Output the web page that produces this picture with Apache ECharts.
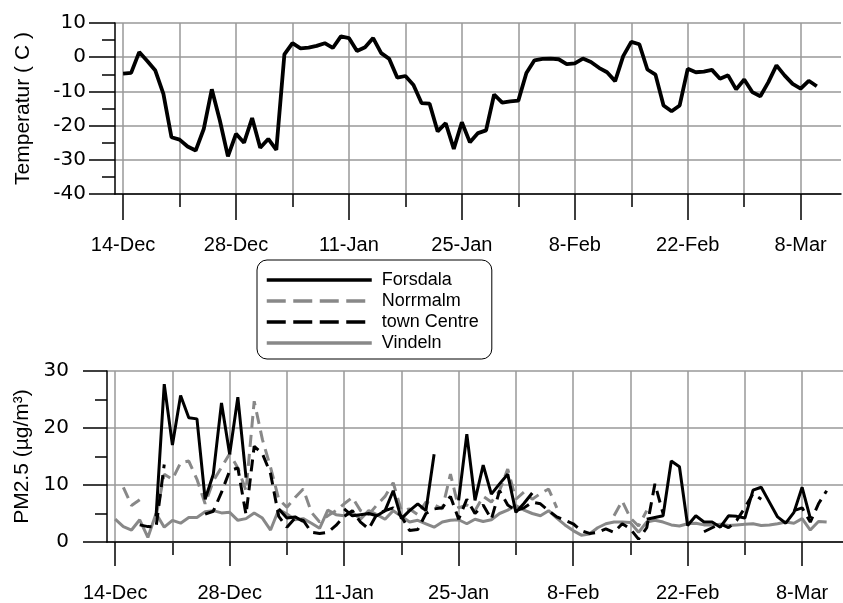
<!DOCTYPE html>
<html lang="en">
<head>
    <meta charset="UTF-8">
    <title>Temperatur och PM2.5</title>
    <script src="https://cdn.jsdelivr.net/npm/echarts@6/dist/echarts.min.js"></script>
    <style>html, body { margin: 0; background: #fff; }</style>
</head>
<body>
    <div id="main" style="width: 843px;height:603px;"></div>
    <script type="text/javascript">
        // days on the axis: 13-Dec .. 13-Mar
        const months = [['Dec', 13, 31], ['Jan', 1, 31], ['Feb', 1, 28], ['Mar', 1, 13]];
        const days = [];
        months.forEach((m) => {
            for (let d = m[1]; d <= m[2]; d++) days.push(d + '-' + m[0]);
        });

        const tickLabels = ['14-Dec', '28-Dec', '11-Jan', '25-Jan', '8-Feb', '22-Feb', '8-Mar'];
        const weekLines = ['14-Dec', '21-Dec', '28-Dec', '4-Jan', '11-Jan', '18-Jan', '25-Jan',
            '1-Feb', '8-Feb', '15-Feb', '22-Feb', '1-Mar', '8-Mar'];
        const minorTicks = weekLines.filter((d) => !tickLabels.includes(d));

        // daily values, first value is 14-Dec
        const temperature = [-4.8, -4.6, 1.5, -1.1, -3.9, -10.7, -23.4, -24.1, -26.1, -27.3, -21.0, -9.4,
            -18.5, -29.0, -22.4, -25.0, -17.8, -26.5, -23.9, -27.1, 0.8, 4.1, 2.6, 2.8, 3.3, 4.1, 2.7, 6.1,
            5.6, 1.8, 2.9, 5.6, 1.2, -0.5, -6.0, -5.5, -8.1, -13.4, -13.6, -21.7, -19.3, -26.8, -19.0, -24.9,
            -22.2, -21.4, -10.9, -13.3, -12.9, -12.7, -4.6, -0.9, -0.5, -0.4, -0.6, -2.0, -1.8, -0.4, -1.4,
            -3.1, -4.4, -7.0, 0.3, 4.5, 3.8, -3.6, -5.1, -14.1, -15.8, -14.1, -3.4, -4.4, -4.2, -3.7, -6.3,
            -5.3, -9.4, -6.5, -10.2, -11.4, -7.3, -2.4, -5.3, -7.8, -9.2, -6.9, -8.5];

        const forsdala = [null, null, null, null, null,
            4.5, 27.7, 17.0, 25.7, 21.8, 21.6, 7.5, 11.9, 24.4, 15.4, 25.4, 11.3,
            null, null, null,
            5.8, 4.2, 4.4, 3.6,
            null, null, null, null,
            5.8, 4.6, 4.8, 5.0, 4.6, 5.5, 9.0, 4.1, 5.5, 6.7, 5.5, 15.4,
            null, null,
            7.3, 18.9, 7.3, 13.5, 8.4, 10.2, 11.9, 5.2, 6.8, 8.6,
            null, null, null, null, null, null, null, null, null, null, null, null, null,
            4.0, 4.3, 4.6, 14.2, 13.2, 2.9, 4.6, 3.5, 3.5, 2.6, 4.6, 4.5, 4.2, 9.1, 9.6, 7.0, 4.4, 3.3,
            5.2, 9.6, 4.2,
            null, null];

        const norrmalm = [null, 9.6, 6.4, 7.4, null, 4.5, 11.9, 11.0, 13.9, 14.2, 11.0, 6.7, 10.7, 13.1,
            15.5, 13.0, 9.0, 24.7, 18.0, 13.1, 7.5, 6.1, 7.8, 9.3, 5.2, 3.5, 4.6, 5.5, 6.7, 7.8, 5.5, 4.8,
            6.5, 8.0, 10.4, 5.5, 5.8, 4.8, 7.0, 6.5, 5.8, 11.9, 6.0, 6.5, 5.5, 8.0, 7.0, 9.0, 12.8, 7.5,
            8.8, 7.5, 8.5, 9.3, 6.0,
            null, null, null, null, null, null,
            4.6, 7.2, 4.2, 2.8, 5.5];

        const townCentre = [null, null, null, 3.0, 2.7, 2.6, 13.6,
            null, null, null, null,
            4.9, 5.4, 8.7, 12.5, 13.0, 4.8, 16.8, 15.5, 12.0, 4.5, 2.6, 4.2, 3.8, 1.7, 1.5, 1.7, 2.9,
            4.5, 5.5, 3.5, 2.3, 4.9, 5.5, 6.0, 4.5, 2.0, 2.2, 5.0, 5.8, 6.0, 8.0, 4.0, 7.5, 5.0, 6.5,
            4.0, 9.0, 6.5, 5.5, 6.0, 7.0, 6.7, 5.5, 4.4, 3.8, 3.2, 2.0, 1.5, 1.7, 2.3, 1.7, 3.2, 2.3,
            0.5, 2.5, 10.2, 5.0,
            null, null, null, null,
            1.8, 2.5, 3.2, 2.5, 3.8, 6.0, 8.5, 7.5,
            null, null, null,
            5.5, 6.0, 3.5, 6.7, 9.0];

        const vindeln = [4.0, 2.7, 2.1, 3.9, 0.8, 5.0, 2.6, 3.8, 3.3, 4.3, 4.3, 5.3, 5.5, 5.1, 5.2, 3.8,
            4.1, 5.1, 4.2, 2.1, 5.7, 4.9, 3.9, 4.1, 3.3, 2.4, 5.6, 4.8, 4.6, 5.2, 4.0, 5.5, 4.8, 4.0, 5.5,
            4.5, 3.5, 3.8, 3.2, 2.6, 3.5, 3.8, 3.9, 3.2, 4.0, 3.6, 3.9, 5.0, 5.6, 6.4, 5.6, 5.0, 4.6, 5.5,
            4.2, 3.0, 2.0, 1.2, 1.4, 2.5, 3.2, 3.5, 3.5, 3.4, 1.7, 3.5, 3.8, 3.5, 3.0, 2.8, 3.2, 3.3, 3.0,
            3.0, 3.1, 2.9, 3.0, 3.1, 3.2, 2.9, 3.0, 3.2, 3.5, 3.3, 4.1, 2.1, 3.6, 3.5];

        // axis starts on 13-Dec, the data on 14-Dec
        const pad = (arr) => [null].concat(arr);

        const font = 'Liberation Sans, Arial, sans-serif';
        const black = { color: '#000', width: 1.5 };
        const grey = { color: '#999', width: 1.5 };

        function xAxis(gridIndex, major, tickLen) {
            return {
                type: 'category',
                gridIndex: gridIndex,
                data: days,
                boundaryGap: false,
                axisLine: { show: major, onZero: false, lineStyle: black },
                axisTick: {
                    show: true,
                    length: major ? tickLen : tickLen / 2,
                    interval: (i, v) => (major ? tickLabels : minorTicks).includes(v),
                    lineStyle: black
                },
                axisLabel: {
                    show: major,
                    interval: (i, v) => tickLabels.includes(v),
                    margin: 41,
                    color: '#000',
                    fontSize: 20,
                    fontFamily: font
                },
                splitLine: {
                    show: major,
                    interval: (i, v) => weekLines.includes(v),
                    lineStyle: grey
                }
            };
        }

        function yAxis(gridIndex, min, max, name, nameGap, labelMargin, tickLen) {
            return {
                type: 'value',
                gridIndex: gridIndex,
                min: min,
                max: max,
                interval: 10,
                name: name,
                nameLocation: 'middle',
                nameGap: nameGap,
                nameTextStyle: { fontSize: 21, color: '#000', fontFamily: font },
                axisLine: { show: true, lineStyle: black },
                axisTick: { show: true, length: tickLen, lineStyle: black },
                minorTick: { show: true, splitNumber: 2, length: tickLen / 2, lineStyle: black },
                axisLabel: { margin: labelMargin, color: '#000', fontSize: 20, fontFamily: 'DejaVu Sans' },
                splitLine: { show: true, lineStyle: grey }
            };
        }

        const hiddenY = (gridIndex, min, max) => ({ type: 'value', gridIndex: gridIndex, min: min, max: max, show: false });

        const dashed = [12, 7];
        const legendDash = [19, 7.5];

        let options = {
            animation: false,
            backgroundColor: '#fff',
            grid: [
                { left: 115, right: 2, top: 23, bottom: 409 },
                { left: 115, right: 2, top: 23, bottom: 409 },
                { left: 107, right: 0, top: 371, bottom: 60 },
                { left: 107, right: 0, top: 371, bottom: 60 }
            ],
            xAxis: [xAxis(0, true, 26), xAxis(1, false, 26), xAxis(2, true, 24), xAxis(3, false, 24)],
            yAxis: [
                yAxis(0, -40, 10, 'Temperatur ( C )', 81, 29, 26),
                hiddenY(1, -40, 10),
                yAxis(2, 0, 30, 'PM2.5 (µg/m³)', 73, 38, 24),
                hiddenY(3, 0, 30)
            ],
            legend: {
                data: [
                    { name: 'Forsdala' },
                    { name: 'Norrmalm', lineStyle: { type: legendDash } },
                    { name: 'town Centre', lineStyle: { type: legendDash } },
                    { name: 'Vindeln' }
                ],
                orient: 'vertical',
                left: 257,
                top: 260,
                itemWidth: 105,
                itemHeight: 14,
                itemGap: 3,
                padding: [11, 13, 7, 8],
                borderColor: '#000',
                borderWidth: 1,
                borderRadius: 10,
                backgroundColor: '#fff',
                selectedMode: false,
                itemStyle: { opacity: 0 },
                lineStyle: { width: 3.5 },
                textStyle: { fontSize: 18, color: '#000', fontFamily: font, padding: [0, 0, 0, 5] }
            },
            series: [
                {
                    name: 'Temperatur', type: 'line', xAxisIndex: 0, yAxisIndex: 0,
                    data: pad(temperature), symbol: 'none',
                    lineStyle: { color: '#000', width: 3.8 }
                },
                {
                    name: 'Vindeln', type: 'line', xAxisIndex: 2, yAxisIndex: 2,
                    data: pad(vindeln), symbol: 'none', color: '#888',
                    lineStyle: { color: '#888', width: 3 }
                },
                {
                    name: 'Norrmalm', type: 'line', xAxisIndex: 2, yAxisIndex: 2,
                    data: pad(norrmalm), symbol: 'none', color: '#888',
                    lineStyle: { color: '#888', width: 3, type: dashed }
                },
                {
                    name: 'town Centre', type: 'line', xAxisIndex: 2, yAxisIndex: 2,
                    data: pad(townCentre), symbol: 'none', color: '#000',
                    lineStyle: { color: '#000', width: 3, type: dashed }
                },
                {
                    name: 'Forsdala', type: 'line', xAxisIndex: 2, yAxisIndex: 2,
                    data: pad(forsdala), symbol: 'none', color: '#000',
                    lineStyle: { color: '#000', width: 3 }
                }
            ]
        };

        let myChart = echarts.init(document.getElementById('main'));
        myChart.setOption(options);
    </script>
</body>
</html>
